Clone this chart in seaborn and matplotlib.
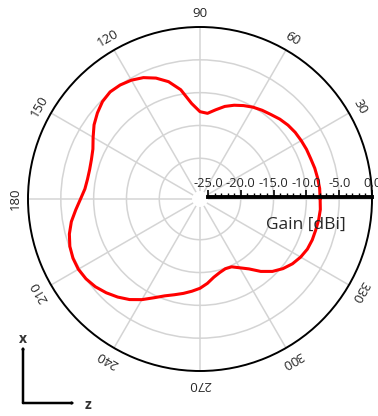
import numpy as np
import matplotlib
matplotlib.use("Agg")
import matplotlib.pyplot as plt
import seaborn as sns

# ---- data ----
angles_deg = list(range(0, 360, 5))
gain_dbi = [-7.9, -7.9, -8.0, -8.1, -8.25, -8.3, -8.4, -8.5, -8.7, -9.0,
            -9.4, -9.7, -10.05, -10.5, -11.0, -11.6, -12.4, -13.1, -12.9, -11.6,
            -9.3, -7.7, -6.6, -5.8, -5.3, -5.0, -4.9, -5.2, -5.8, -6.5,
            -7.4, -8.2, -8.6, -8.8, -8.8, -8.6, -8.0, -7.2, -6.3, -5.6,
            -5.1, -4.85, -4.8, -5.0, -5.4, -6.0, -6.7, -7.5, -8.5, -9.6,
            -10.5, -11.1, -11.6, -12.1, -12.6, -13.3, -14.1, -14.6, -14.9, -14.8,
            -14.1, -13.2, -11.8, -10.6, -9.7, -9.0, -8.5, -8.15, -8.0, -7.95,
            -7.85, -7.8]
angle_ticks = [0, 30, 60, 90, 120, 150, 180, 210, 240, 270, 300, 330]
angle_tick_labels = ["0", "30", "60", "90", "120", "150", "180", "210", "240", "270", "300", "330"]
r_ticks = [-25, -20, -15, -10, -5, 0]
r_label = "Gain [dBi]"

sns.set_theme(style="white")
plt.rcParams["font.family"] = ["Open Sans", "DejaVu Sans"]
plt.rcParams["axes.unicode_minus"] = False

W, H = 378, 416
fig = plt.figure(figsize=(W / 100, H / 100), dpi=100)

cx, cy, R = 200, 199, 172
ax = fig.add_axes([(cx - R) / W, (H - cy - R) / H, 2 * R / W, 2 * R / H], projection="polar")

theta = np.deg2rad(angles_deg + [360])
gain = gain_dbi + [gain_dbi[0]]
sns.lineplot(x=theta, y=gain, ax=ax, sort=False, color="red", lw=2.2, legend=False)

ax.set_rlim(-25, 0)
ax.set_rorigin(-26.2)
ax.set_yticks([-20, -15, -10, -5])
ax.set_yticklabels([])
ax.set_xticks(np.deg2rad(angle_ticks))
ax.set_xticklabels([])
ax.grid(True, color="#d4d4d4", lw=1.1)
ax.tick_params(axis="x", direction="inout", length=6, width=1, colors="black", pad=0)
ax.xaxis.set_tick_params(which="both", tick2On=False)
ax.spines["polar"].set_color("black")
ax.spines["polar"].set_linewidth(1.4)
ax.spines["inner"].set_visible(False)
ax.spines["inner"].set_color("none")
ax.patch.set_edgecolor("none")
ax.set_xlabel("")
ax.set_ylabel("")

for a, lab in zip(angle_ticks, angle_tick_labels):
    if a == 0:
        continue
    ax.text(np.deg2rad(a), 2.0, lab, rotation=a - 90, rotation_mode="anchor",
            ha="center", va="center", fontsize=9.5, color="#262626", clip_on=False)

# radial scale bar
x0 = (cx + 8) / W
x1 = (cx + R) / W
ax2 = fig.add_axes([x0, (H - 197) / H, x1 - x0, 0.0001])
ax2.set_xlim(-25, 0)
ax2.set_ylim(0, 1)
ax2.patch.set_alpha(0)
for s in ["top", "left", "right"]:
    ax2.spines[s].set_visible(False)
ax2.spines["bottom"].set_linewidth(2.8)
ax2.spines["bottom"].set_color("black")
ax2.set_yticks([])
ax2.set_xticks(r_ticks)
ax2.set_xticklabels([f"{v:.1f}" for v in r_ticks])
ax2.set_xticks(np.arange(-25, 1, 1), minor=True)
ax2.tick_params(axis="x", which="both", direction="in", bottom=True, top=False,
                labelbottom=False, labeltop=True, color="black")
ax2.tick_params(axis="x", which="major", length=5, width=1.2, labelsize=9.3, pad=5,
                labelcolor="#262626")
ax2.tick_params(axis="x", which="minor", length=3, width=1)

fig.text(306 / W, 1 - 225 / H, r_label, ha="center", va="center", fontsize=12.5, color="#262626")

# coordinate indicator
def fx(px):
    return px / W

def fy(py):
    return 1 - py / H

arrow = dict(arrowstyle="-|>,head_length=0.5,head_width=0.25", color="black", lw=1.8,
             shrinkA=0, shrinkB=0)
fig.add_artist(matplotlib.patches.FancyArrowPatch((fx(23), fy(403)), (fx(23), fy(346)),
                                                  transform=fig.transFigure, **arrow))
fig.add_artist(matplotlib.patches.FancyArrowPatch((fx(23), fy(403)), (fx(75), fy(403)),
                                                  transform=fig.transFigure, **arrow))
fig.text(fx(23), fy(339), "x", ha="center", va="center", fontsize=10, fontweight="bold",
         color="#333333")
fig.text(fx(88), fy(405), "z", ha="center", va="center", fontsize=10, fontweight="bold",
         color="#333333")

fig.savefig("out.png", dpi=100)
